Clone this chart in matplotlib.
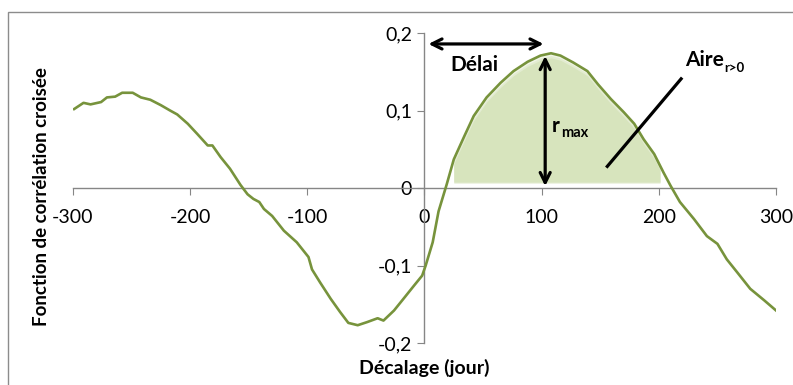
import numpy as np
import matplotlib.pyplot as plt
from matplotlib.patches import Rectangle

# lag (days) and cross-correlation
lag = [-299, -291, -285, -276, -271, -264, -258, -249, -242, -234, -225, -217,
       -211, -202, -194, -185, -181, -174, -166, -157, -151, -146, -141, -137,
       -130, -120, -109, -99, -96, -89, -80, -72, -65, -57, -49, -40, -35,
       -26, -18, -9, -2, 1, 7, 12, 19, 25, 34, 42, 53, 65, 76, 88, 99, 108,
       116, 127, 139, 148, 159, 170, 179, 187, 196, 204, 210, 218, 230, 241,
       250, 258, 267, 278, 290, 300]
corr = [0.102, 0.110, 0.108, 0.111, 0.117, 0.118, 0.123, 0.123, 0.117, 0.114,
        0.107, 0.100, 0.095, 0.083, 0.070, 0.055, 0.055, 0.040, 0.025, 0.004,
        -0.008, -0.014, -0.018, -0.027, -0.036, -0.055, -0.070, -0.089,
        -0.105, -0.122, -0.143, -0.160, -0.174, -0.177, -0.173, -0.168,
        -0.171, -0.158, -0.143, -0.126, -0.113, -0.100, -0.070, -0.030,
        0.005, 0.037, 0.067, 0.093, 0.117, 0.136, 0.151, 0.163, 0.171, 0.174,
        0.171, 0.162, 0.151, 0.134, 0.115, 0.098, 0.083, 0.063, 0.044, 0.020,
        0.003, -0.018, -0.040, -0.062, -0.072, -0.092, -0.109, -0.130,
        -0.145, -0.158]

xticks = [-300, -200, -100, 0, 100, 200, 300]
yticks = [-0.2, -0.1, 0, 0.1, 0.2]
ylabels = ['-0,2', '-0,1', '0', '0,1', '0,2']

plt.rcParams['font.family'] = ['Lato', 'DejaVu Sans']

fig = plt.figure(figsize=(7.93, 3.85), dpi=100)
# outer chart frame
fig.patches.append(Rectangle((8 / 793, -0.05), 1.0, 1 - 12 / 385 + 0.05,
                             transform=fig.transFigure, fill=False,
                             edgecolor='#8c8c8c', linewidth=1.0))
ax = fig.add_axes([0.092, 0.109, 0.8866, 0.805])

lag_a = np.array(lag)
corr_a = np.array(corr)

# shaded area r > 0 (soft edges faked with a few layers)
xs = np.linspace(25, 201, 300)
top = np.interp(xs, lag_a, corr_a)
for shrink, a in [(0.0, 0.35), (0.003, 0.5), (0.006, 1.0)]:
    ax.fill_between(xs, 0.006 + shrink * 0.3, top - shrink, where=top - shrink > 0.007,
                    color='#d7e4bd', alpha=a, linewidth=0, zorder=1)

ax.plot(lag, corr, color='#77933c', linewidth=1.9, zorder=3)

ax.set_xlim(-300, 300)
ax.set_ylim(-0.2, 0.2)
ax.spines['left'].set_position(('data', 0))
ax.spines['bottom'].set_position(('data', 0))
ax.spines['right'].set_visible(False)
ax.spines['top'].set_visible(False)
for s in ['left', 'bottom']:
    ax.spines[s].set_color('#868686')
    ax.spines[s].set_linewidth(1.0)
ax.set_xticks(xticks)
ax.set_xticklabels([str(t) for t in xticks])
ax.set_yticks(yticks)
ax.set_yticklabels(ylabels)
ax.tick_params(axis='x', direction='out', length=5, color='#868686',
               labelsize=14, pad=10)
ax.tick_params(axis='y', direction='out', length=5, color='#868686',
               labelsize=14, pad=4)

# annotations
ax.annotate('', xy=(1, 0.186), xytext=(104, 0.186),
            arrowprops=dict(arrowstyle='<->', color='black', lw=2.3,
                            mutation_scale=18))
ax.annotate('', xy=(103, 0.174), xytext=(103, -0.001),
            arrowprops=dict(arrowstyle='<->', color='black', lw=2.3,
                            mutation_scale=18))
ax.text(22, 0.159, 'Délai', fontsize=15, fontweight='bold', va='center')

t_r = ax.text(109, 0.080, 'r', fontsize=15, fontweight='bold', va='center')
ax.annotate('max', xy=(1, 0), xycoords=t_r, xytext=(0.5, -3),
            textcoords='offset points', fontsize=10.5, fontweight='bold',
            va='bottom', ha='left')
t_a = ax.text(222, 0.165, 'Aire', fontsize=15, fontweight='bold', va='center')
ax.annotate('r>0', xy=(1, 0), xycoords=t_a, xytext=(0.5, -3),
            textcoords='offset points', fontsize=9.5, fontweight='bold',
            va='bottom', ha='left')
ax.plot([219, 156], [0.141, 0.028], color='black', linewidth=2.3, zorder=4)

fig.text(0.535, 0.043, 'Décalage (jour)', fontsize=14, fontweight='bold',
         ha='center', va='center')
fig.text(0.052, 0.49, 'Fonction de corrélation croisée', fontsize=13.5,
         fontweight='bold', ha='center', va='center', rotation=90)

fig.savefig('out.png', dpi=100)
